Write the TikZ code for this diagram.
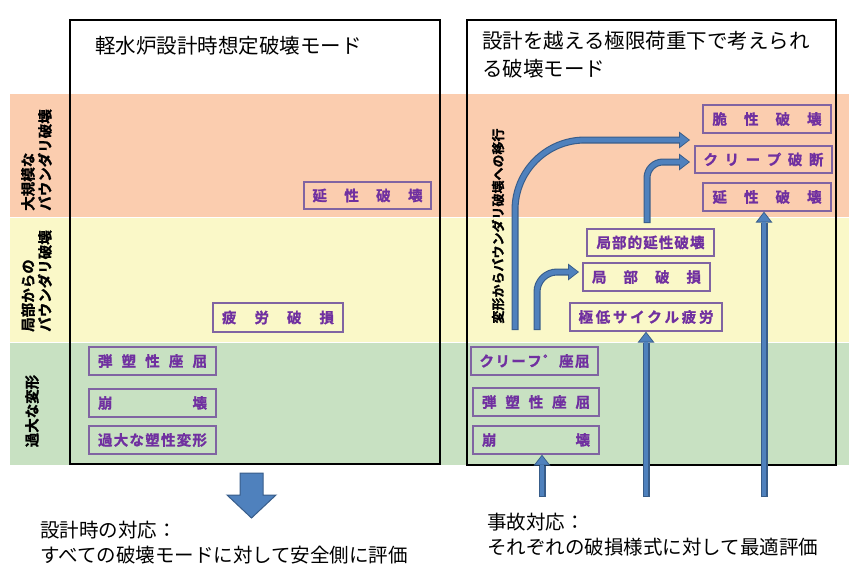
\documentclass[tikz,border=0pt]{standalone}
\usepackage{fontspec}
\setmainfont{Noto Sans CJK JP}
\newfontfamily\heavyjp[FakeBold=1.2]{Noto Sans CJK JP Bold}
\usetikzlibrary{arrows.meta}
\definecolor{bandO}{HTML}{FBCDAF}
\definecolor{bandY}{HTML}{FAF8C8}
\definecolor{bandG}{HTML}{C8E1C2}
\definecolor{ptext}{HTML}{7030A0}
\definecolor{pline}{HTML}{8064A2}
\definecolor{bfill}{HTML}{4F81BD}
\definecolor{bdark}{HTML}{385D8A}
\newcommand\spr[2]{\makebox[#1pt][s]{#2}}
\newcommand\blockarr[2]{%
  \draw[#1, line width=7pt, draw=bdark, -{Triangle[width=17pt,length=11pt,line width=0pt]}] #2;
  \draw[#1, line width=4.8pt, draw=bfill, shorten >=1.4pt, shorten <=0.8pt, -{Triangle[width=13pt,length=8.6pt,line width=0pt]}] #2;}
\begin{document}
\begin{tikzpicture}[x=1pt,y=-1pt,
  band/.style={draw=white, line width=0.8pt},
  frame/.style={draw=black, line width=2pt},
  mbox/.style={draw=pline, line width=1.3pt, text=ptext, inner sep=0pt,
    font=\heavyjp\fontsize{14.5}{16}\selectfont},
  rowlab/.style={rotate=90, align=left, inner sep=0pt,
    font=\heavyjp\fontsize{14.5}{17}\selectfont},
  title/.style={inner sep=0pt, align=left, font=\fontsize{20.5}{28}\selectfont},
  foot/.style={inner sep=0pt, align=left, font=\fontsize{19.5}{25}\selectfont}]
\useasboundingbox (0,0) rectangle (849,574);
\fill[white] (0,0) rectangle (849,574);
% bands
\filldraw[band, fill=bandO] (9,93) rectangle (849,217);
\filldraw[band, fill=bandY] (9,217) rectangle (849,342);
\filldraw[band, fill=bandG] (9,342) rectangle (849,465);
% frames
\draw[frame] (70,20) rectangle (440,464);
\draw[frame] (467,20) rectangle (836,465);
% titles
\node[title, anchor=west] (tl) at (95,46) {軽水炉設計時想定破壊モード};
\node[title, anchor=west] (tr) at (482,55) {設計を越える極限荷重下で考えられ\\る破壊モード};
% row labels
\node[rowlab] (r1) at (36.5,160) {大規模な\\バウンダリ破壊};
\node[rowlab] (r2) at (36.5,281) {局部からの\\バウンダリ破壊};
\node[rowlab] (r3) at (32,411) {過大な変形};
% left boxes
\node[mbox, minimum width=127, minimum height=27] (lduct) at (367.5,195.5) {\spr{110}{延\hfill 性\hfill 破\hfill 壊}};
\node[mbox, minimum width=130, minimum height=29] (lfat) at (278,317.5) {\spr{112}{疲\hfill 労\hfill 破\hfill 損}};
\node[mbox, minimum width=127, minimum height=28] (lbuck) at (152.5,361) {\spr{109}{弾\hfill 塑\hfill 性\hfill 座\hfill 屈}};
\node[mbox, minimum width=127, minimum height=28] (lcoll) at (152.5,403) {\spr{109}{崩\hfill 壊}};
\node[mbox, minimum width=127, minimum height=28] (ldef) at (152.5,440) {\spr{109}{過\hfill 大\hfill な\hfill 塑\hfill 性\hfill 変\hfill 形}};
% right boxes
\node[mbox, minimum width=128, minimum height=28] (brit) at (767,119) {\spr{109}{脆\hfill 性\hfill 破\hfill 壊}};
\node[mbox, minimum width=137, minimum height=27] (crpr) at (763.5,159.5) {\spr{120}{ク\hfill リ\hfill ー\hfill プ\hfill 破\hfill 断}};
\node[mbox, minimum width=128, minimum height=28] (rduct) at (767,197) {\spr{109}{延\hfill 性\hfill 破\hfill 壊}};
\node[mbox, minimum width=127, minimum height=27] (ldb) at (650.5,242.5) {\spr{108}{局\hfill 部\hfill 的\hfill 延\hfill 性\hfill 破\hfill 壊}};
\node[mbox, minimum width=127, minimum height=28] (lfail) at (646.5,277) {\spr{109}{局\hfill 部\hfill 破\hfill 損}};
\node[mbox, minimum width=152, minimum height=28] (lcf) at (646,317) {\spr{135}{極\hfill 低\hfill サ\hfill イ\hfill ク\hfill ル\hfill 疲\hfill 労}};
\node[mbox, minimum width=127, minimum height=28] (cbuck) at (534.5,361) {\spr{110}{ク\hfill リ\hfill ー\hfill フ\hfill ゜\hfill 座\hfill 屈}};
\node[mbox, minimum width=126, minimum height=28] (rbuck) at (536,402) {\spr{108}{弾\hfill 塑\hfill 性\hfill 座\hfill 屈}};
\node[mbox, minimum width=126, minimum height=28] (rcoll) at (536,440) {\spr{108}{崩\hfill 壊}};
% rotated arrow label
\node[rotate=90, inner sep=0pt, font=\heavyjp\fontsize{13}{15}\selectfont] (mig) at (498,226) {変形からバウンダリ破壊への移行};
% arrows
\coordinate (s1) at (515,330); \coordinate (e1) at (690,140);
\coordinate (s2) at (647,223); \coordinate (e2) at (690,162);
\coordinate (s3) at (537,330); \coordinate (e3) at (579,272);
\coordinate (s4) at (764,497);
\coordinate (s5) at (646,497);
\coordinate (s6) at (542,497);
\blockarr{rounded corners=70pt}{(s1) |- (e1)}
\blockarr{rounded corners=16pt}{(s2) |- (e2)}
\blockarr{rounded corners=20pt}{(s3) |- (e3)}
\blockarr{}{(s4) -- (s4 |- rduct.south)}
\blockarr{}{(s5) -- (lcf.south)}
\blockarr{}{(s6) -- (s6 |- rcoll.south)}
% down block arrow
\filldraw[fill=bfill, draw=bdark, line width=1pt, line join=miter]
  (240,473) -- (263,473) -- (263,495) -- (276,495) -- (251.5,518) -- (227,495) -- (240,495) -- cycle;
% footers
\node[foot, anchor=north west] (fl) at (40,521) {設計時の対応：\\すべての破壊モードに対して安全側に評価};
\node[foot, anchor=north west] (fr) at (487,513) {事故対応：\\それぞれの破損様式に対して最適評価};
\end{tikzpicture}
\end{document}
